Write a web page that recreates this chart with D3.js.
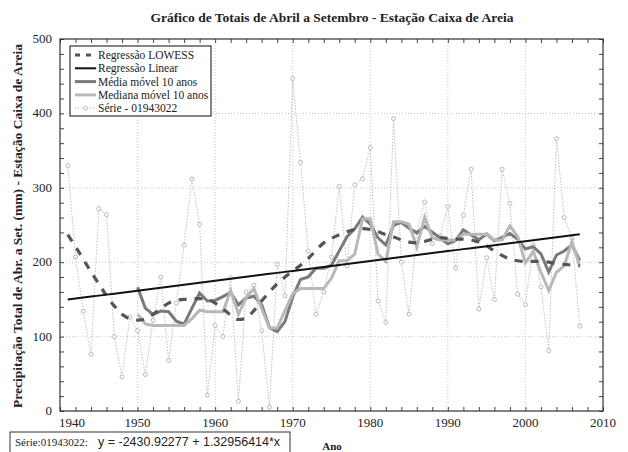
<!DOCTYPE html>
<html>
<head>
<meta charset="utf-8">
<script src="https://cdn.jsdelivr.net/npm/d3@7"></script>
<style>
  body { margin: 0; background: #fff; }
  text { font-family: "Liberation Serif", "DejaVu Serif", serif; fill: #222; }
</style>
</head>
<body>
<svg id="chart" width="628" height="452"></svg>
<script>
// data
const startYear = 1941;
const serie = [330, 207, 134, 76, 272, 264, 100, 46, 126, 108,
               49, 122, 180, 68, 145, 223, 312, 251, 21, 115,
               100, 179, 13, 160, 169, 108, 5, 197, 155, 447,
               334, 215, 130, 160, 207, 302, 195, 304, 312, 354,
               148, 119, 393, 200, 130, 240, 281, 225, 235, 275,
               192, 263, 325, 137, 206, 150, 325, 279, 157, 143,
               223, 167, 81, 366, 260, 232, 114];
const lowess = [237, 221, 204, 187, 171, 155, 141, 130, 124, 122,
                124, 130, 138, 145, 149, 150, 151, 151, 150, 145,
                137, 129, 123, 125, 135, 148, 160, 171, 180, 188,
                196, 205, 216, 226, 232, 237, 241, 244, 245, 244,
                241, 237, 234, 230, 227, 226, 228, 231, 233, 232,
                231, 231, 230, 227, 222, 215, 209, 204, 202, 201,
                201, 201, 200, 198, 197, 196, 195];
const intercept = -2430.92277, slope = 1.32956414;
const windowSize = 10;
const xTicks = [1940, 1950, 1960, 1970, 1980, 1990, 2000, 2010];
const yTicks = [0, 100, 200, 300, 400, 500];
const legendNames = ["Regressão LOWESS", "Regressão Linear", "Média móvel 10 anos",
                     "Mediana móvel 10 anos", "Série - 01943022"];

const years = serie.map((d, i) => startYear + i);

const svg = d3.select("#chart");
const pLeft = 60, pRight = 603, pTop = 39, pBottom = 411;

const x = d3.scaleLinear().domain([1940, 2010]).range([pLeft, pRight]);
const y = d3.scaleLinear().domain([0, 500]).range([pBottom, pTop]);

// grid
svg.append("g").selectAll("line").data(xTicks.slice(1, -1)).join("line")
    .attr("x1", d => x(d)).attr("x2", d => x(d)).attr("y1", pTop).attr("y2", pBottom)
    .attr("stroke", "#c8c8c8").attr("stroke-dasharray", "1,2");
svg.append("g").selectAll("line").data(yTicks.slice(1, -1)).join("line")
    .attr("y1", d => y(d)).attr("y2", d => y(d)).attr("x1", pLeft).attr("x2", pRight)
    .attr("stroke", "#c8c8c8").attr("stroke-dasharray", "1,2");

// axes with inward ticks on all sides
const xMinor = d3.range(1940, 2011, 2);
const yMinor = d3.range(0, 501, 20);
svg.append("g").attr("transform", "translate(0," + pBottom + ")")
    .call(d3.axisTop(x).tickValues(xMinor).tickSize(4).tickFormat(""))
    .call(g => g.select(".domain").remove());
svg.append("g").attr("transform", "translate(0," + pTop + ")")
    .call(d3.axisBottom(x).tickValues(xMinor).tickSize(4).tickFormat(""))
    .call(g => g.select(".domain").remove());
svg.append("g").attr("transform", "translate(" + pLeft + ",0)")
    .call(d3.axisRight(y).tickValues(yMinor).tickSize(4).tickFormat(""))
    .call(g => g.select(".domain").remove());
svg.append("g").attr("transform", "translate(" + pRight + ",0)")
    .call(d3.axisLeft(y).tickValues(yMinor).tickSize(4).tickFormat(""))
    .call(g => g.select(".domain").remove());
svg.selectAll(".tick line").attr("stroke", "#444");

// tick labels (first year label pushed right of the "0", as in the original)
svg.append("g").selectAll("text").data(xTicks).join("text")
    .attr("x", (d, i) => i === 0 ? x(d) - 1 : x(d)).attr("y", pBottom + 16)
    .attr("text-anchor", (d, i) => i === 0 ? "start" : "middle")
    .attr("font-size", 13).text(d => d);
svg.append("g").selectAll("text").data(yTicks).join("text")
    .attr("x", pLeft - 8).attr("y", d => y(d) + 4)
    .attr("text-anchor", "end").attr("font-size", 13).text(d => d);

// derived series
const pts = years.map((yr, i) => ({ x: yr, y: serie[i] }));
const lowPts = years.map((yr, i) => ({ x: yr, y: lowess[i] }));
const linPts = years.map(yr => ({ x: yr, y: intercept + slope * yr }));
const maPts = [], medPts = [];
for (let i = windowSize - 1; i < serie.length; i++) {
    const w = serie.slice(i - windowSize + 1, i + 1);
    maPts.push({ x: years[i], y: d3.mean(w) });
    medPts.push({ x: years[i], y: d3.median(w) });
}

const line = d3.line().x(d => x(d.x)).y(d => y(d.y));

svg.append("path").datum(pts).attr("d", line)
    .attr("fill", "none").attr("stroke", "#c2c2c2").attr("stroke-width", 1)
    .attr("stroke-dasharray", "1.5,1.5");
svg.append("g").selectAll("circle").data(pts).join("circle")
    .attr("cx", d => x(d.x)).attr("cy", d => y(d.y)).attr("r", 2)
    .attr("fill", "#fff").attr("stroke", "#a8a8a8").attr("stroke-width", 0.8);

svg.append("path").datum(maPts).attr("d", line)
    .attr("fill", "none").attr("stroke", "#7a7a7a").attr("stroke-width", 3);
svg.append("path").datum(medPts).attr("d", line)
    .attr("fill", "none").attr("stroke", "#b8b8b8").attr("stroke-width", 3);
svg.append("path").datum(lowPts).attr("d", d3.line().curve(d3.curveMonotoneX).x(d => x(d.x)).y(d => y(d.y)))
    .attr("fill", "none").attr("stroke", "#555").attr("stroke-width", 3.2)
    .attr("stroke-dasharray", "8,8");
svg.append("path").datum(linPts).attr("d", line)
    .attr("fill", "none").attr("stroke", "#111").attr("stroke-width", 2);

// frame
svg.append("rect").attr("x", pLeft).attr("y", pTop)
    .attr("width", pRight - pLeft).attr("height", pBottom - pTop)
    .attr("fill", "none").attr("stroke", "#333").attr("stroke-width", 1.2);

// legend
const lg = svg.append("g");
lg.append("rect").attr("x", 70).attr("y", 46).attr("width", 141).attr("height", 70)
    .attr("fill", "#fff").attr("stroke", "#333").attr("stroke-width", 1.2);
const styles = [
    { stroke: "#555", w: 3, dash: "5,6" },
    { stroke: "#111", w: 2, dash: null },
    { stroke: "#7a7a7a", w: 3, dash: null },
    { stroke: "#b8b8b8", w: 3, dash: null },
    { stroke: "#c2c2c2", w: 1, dash: "1.5,1.5" }
];
legendNames.forEach((name, i) => {
    const yy = 55 + i * 13.3;
    const s = styles[i];
    const ln = lg.append("line").attr("x1", 75).attr("x2", 96).attr("y1", yy).attr("y2", yy)
        .attr("stroke", s.stroke).attr("stroke-width", s.w);
    if (s.dash) ln.attr("stroke-dasharray", s.dash);
    if (i === 4) lg.append("circle").attr("cx", 85.5).attr("cy", yy).attr("r", 2)
        .attr("fill", "#fff").attr("stroke", "#a8a8a8").attr("stroke-width", 0.8);
    lg.append("text").attr("x", 98).attr("y", yy + 4).attr("font-size", 11.5).text(name);
});

// titles
svg.append("text").attr("x", 332).attr("y", 22).attr("text-anchor", "middle")
    .attr("font-size", 13.5).attr("font-weight", "bold")
    .text("Gráfico de Totais de Abril a Setembro - Estação Caixa de Areia");
svg.append("text").attr("transform", "translate(22,226) rotate(-90)")
    .attr("text-anchor", "middle").attr("font-size", 13.5).attr("font-weight", "bold")
    .text("Precipitação Total de Abr. a Set. (mm) - Estação Caixa de Areia");
svg.append("text").attr("x", 332).attr("y", 450).attr("text-anchor", "middle")
    .attr("font-size", 11).attr("font-weight", "bold").text("Ano");

// equation box
svg.append("rect").attr("x", 10).attr("y", 432).attr("width", 280).attr("height", 24)
    .attr("fill", "#fff").attr("stroke", "#333").attr("stroke-width", 1);
svg.append("text").attr("x", 15).attr("y", 446).attr("font-size", 11)
    .text("Série:01943022:");
svg.append("text").attr("x", 98).attr("y", 446).attr("font-size", 12.5)
    .style("font-family", "'Liberation Sans', Arial, sans-serif")
    .text("y = " + intercept.toFixed(5) + " + " + slope.toFixed(8) + "*x");
</script>
</body>
</html>
